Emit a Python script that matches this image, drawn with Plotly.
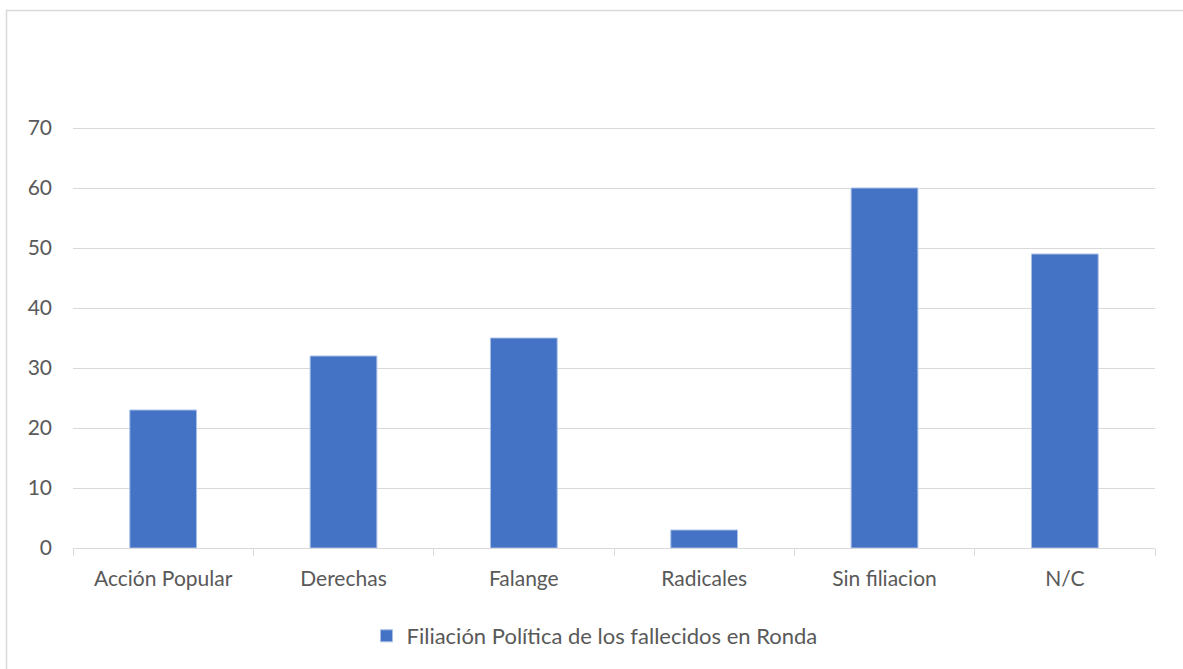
import plotly.graph_objects as go

categories = ["Acción Popular", "Derechas", "Falange", "Radicales", "Sin filiacion", "N/C"]
values = [23, 32, 35, 3, 60, 49]
series_name = "Filiación Política de los fallecidos en Ronda"

W, H = 1183, 669
YMAX = 70.5
L, R, B = 73, 28, 121
T = 128 - int(round((YMAX - 70) * 6))

fig = go.Figure()
fig.add_trace(go.Bar(
    x=categories, y=values, name=series_name,
    marker=dict(color="#4472C4", line=dict(color="#a9bfe6", width=1)),
    width=0.37, showlegend=True,
))

pw = W - L - R
ph = H - T - B
def px_x(x):
    return (x - L) / pw
def px_y(y):
    return (H - B - y) / ph

FS = 21
fig.update_layout(
    width=W, height=H,
    margin=dict(l=L, r=R, t=T, b=B),
    paper_bgcolor="white", plot_bgcolor="white",
    font=dict(family="Lato, Calibri, sans-serif", size=FS, color="#595959"),
    showlegend=True,
    legend=dict(orientation="h", x=0.482, xanchor="center", y=px_y(636), yanchor="middle",
                font=dict(size=22, color="#595959"), itemwidth=30),
    bargap=0.63,
    xaxis=dict(showgrid=False, showline=True, linecolor="#d9d9d9", linewidth=1,
               ticks="outside", tickson="boundaries", ticklen=7, tickcolor="#d9d9d9",
               ticklabelstandoff=12,
               tickfont=dict(size=FS, color="#595959"), fixedrange=True),
    yaxis=dict(range=[0, YMAX], tickvals=[0, 10, 20, 30, 40, 50, 60, 70],
               showgrid=True, gridcolor="#d9d9d9", gridwidth=1,
               zeroline=False, showline=False, ticks="", ticklabelstandoff=20,
               tickfont=dict(size=FS, color="#595959"), fixedrange=True),
    shapes=[dict(type="rect", xref="paper", yref="paper",
                 x0=px_x(6.5), x1=px_x(1200), y0=px_y(700), y1=px_y(10.5),
                 line=dict(color="#d9d9d9", width=1.5), layer="below")],
)

fig.write_html("out.html")
